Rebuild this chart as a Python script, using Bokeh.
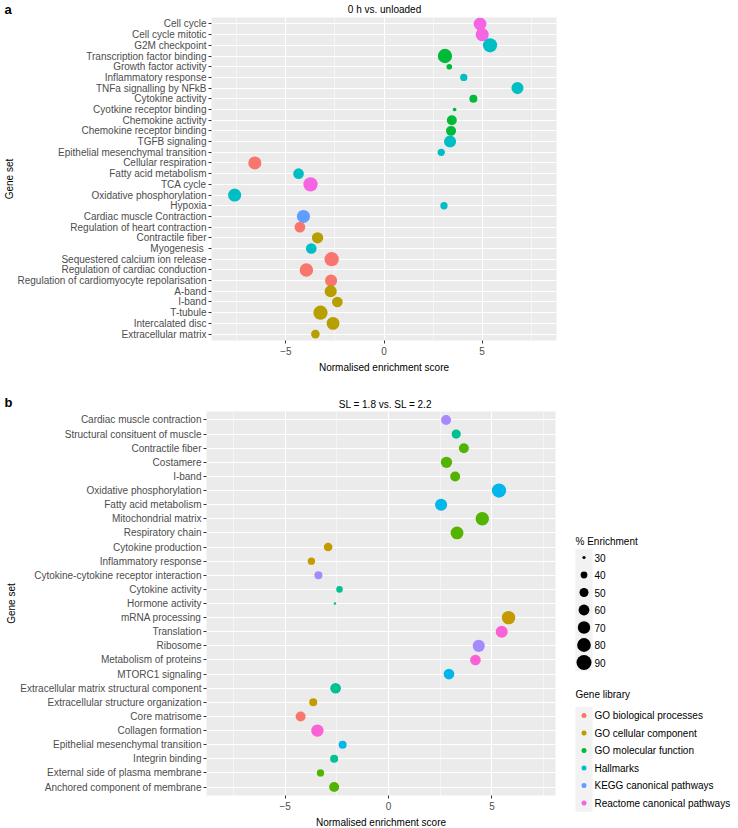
import math
from bokeh.plotting import figure
from bokeh.models import FixedTicker, Range1d, ColumnDataSource
from bokeh.layouts import column, row
from bokeh.transform import factor_cmap
from bokeh.core.properties import value
from bokeh.embed import file_html
from bokeh.resources import INLINE

FONT = "Liberation Sans"

# ---------------- data: panel a ----------------
title_a = "0 h vs. unloaded"
sets_a = ["Cell cycle", "Cell cycle mitotic", "G2M checkpoint", "Transcription factor binding",
          "Growth factor activity", "Inflammatory response", "TNFa signalling by NFkB",
          "Cytokine activity", "Cyotkine receptor binding", "Chemokine activity",
          "Chemokine receptor binding", "TGFB signaling", "Epithelial mesenchymal transition",
          "Cellular respiration", "Fatty acid metabolism", "TCA cycle", "Oxidative phosphorylation",
          "Hypoxia", "Cardiac muscle Contraction", "Regulation of heart contraction",
          "Contractile fiber", "Myogenesis ", "Sequestered calcium ion release",
          "Regulation of cardiac conduction", "Regulation of cardiomyocyte repolarisation",
          "A-band", "I-band", "T-tubule", "Intercalated disc", "Extracellular matrix"]
nes_a = [4.90, 5.01, 5.41, 3.11, 3.33, 4.07, 6.81, 4.56, 3.60, 3.46, 3.42, 3.37, 2.92,
         -6.59, -4.36, -3.75, -7.62, 3.06, -4.11, -4.29, -3.39, -3.71, -2.67, -3.96,
         -2.70, -2.72, -2.38, -3.24, -2.60, -3.50]
pct_a = [73, 75, 83, 84, 36, 42, 68, 45, 31, 55, 55, 68, 42, 75, 59, 84, 75, 42, 75, 59,
         63, 59, 84, 78, 68, 68, 59, 84, 73, 48]
lib_a = ["Reactome canonical pathways", "Reactome canonical pathways", "Hallmarks",
         "GO molecular function", "GO molecular function", "Hallmarks", "Hallmarks",
         "GO molecular function", "GO molecular function", "GO molecular function",
         "GO molecular function", "Hallmarks", "Hallmarks", "GO biological processes",
         "Hallmarks", "Reactome canonical pathways", "Hallmarks", "Hallmarks",
         "KEGG canonical pathways", "GO biological processes", "GO cellular component",
         "Hallmarks", "GO biological processes", "GO biological processes",
         "GO biological processes", "GO cellular component", "GO cellular component",
         "GO cellular component", "GO cellular component", "GO cellular component"]

# ---------------- data: panel b ----------------
title_b = "SL = 1.8 vs. SL = 2.2"
sets_b = ["Cardiac muscle contraction", "Structural consituent of muscle", "Contractile fiber",
          "Costamere", "I-band", "Oxidative phosphorylation", "Fatty acid metabolism",
          "Mitochondrial matrix", "Respiratory chain", "Cytokine production",
          "Inflammatory response", "Cytokine-cytokine receptor interaction", "Cytokine activity",
          "Hormone activity", "mRNA processing", "Translation", "Ribosome",
          "Metabolism of proteins", "MTORC1 signaling", "Extracellular matrix structural component",
          "Extracellular structure organization", "Core matrisome", "Collagen formation",
          "Epithelial mesenchymal transition", "Integrin binding",
          "External side of plasma membrane", "Anchored component of membrane"]
nes_b = [2.78, 3.27, 3.64, 2.80, 3.22, 5.34, 2.54, 4.53, 3.31, -2.92, -3.73, -3.39, -2.37,
         -2.59, 5.80, 5.47, 4.36, 4.20, 2.92, -2.56, -3.64, -4.25, -3.44, -2.22, -2.63,
         -3.29, -2.63]
pct_b = [55, 51, 55, 63, 55, 84, 68, 78, 73, 48, 42, 45, 39, 29, 78, 68, 68, 59, 59, 59,
         45, 55, 70, 45, 45, 42, 55]
lib_b = ["KEGG canonical pathways", "GO molecular function", "GO cellular component",
         "GO cellular component", "GO cellular component", "Hallmarks", "Hallmarks",
         "GO cellular component", "GO cellular component", "GO biological processes",
         "GO biological processes", "KEGG canonical pathways", "GO molecular function",
         "GO molecular function", "GO biological processes", "Reactome canonical pathways",
         "KEGG canonical pathways", "Reactome canonical pathways", "Hallmarks",
         "GO molecular function", "GO biological processes", "Canonical pathways",
         "Reactome canonical pathways", "Hallmarks", "GO molecular function",
         "GO cellular component", "GO cellular component"]

libs_a = ["GO biological processes", "GO cellular component", "GO molecular function",
          "Hallmarks", "KEGG canonical pathways", "Reactome canonical pathways"]
pal_a = ["#F8766D", "#B79F00", "#00BA38", "#00BFC4", "#619CFF", "#F564E3"]
libs_b = ["Canonical pathways", "GO biological processes", "GO cellular component",
          "GO molecular function", "Hallmarks", "KEGG canonical pathways",
          "Reactome canonical pathways"]
pal_b = ["#F8766D", "#C49A00", "#53B400", "#00C094", "#00B6EB", "#A58AFF", "#FB61D7"]

size_breaks = [30, 40, 50, 60, 70, 80, 90]
x_ticks = [-5, 0, 5]
x_minor = [-7.5, -2.5, 2.5, 7.5]

# size scale (area proportional): diameter in px
D_LO, D_HI, V_LO, V_HI = 3.2, 15.0, 30.0, 90.0


def size_px(v):
    a = D_LO ** 2 + (D_HI ** 2 - D_LO ** 2) * (v - V_LO) / (V_HI - V_LO)
    return math.sqrt(max(a, 2.0))


TXT = "#4D4D4D"


def pixel_fig(w, h):
    f = figure(width=w, height=h, x_range=Range1d(0, w), y_range=Range1d(h, 0),
               output_backend="svg", toolbar_location=None, min_border=0,
               x_axis_type=None, y_axis_type=None, frame_align=False)
    f.outline_line_color = None
    f.background_fill_color = "white"
    f.border_fill_color = "white"
    return f


def header(w, h, letter, ly, title, tx, ty):
    f = pixel_fig(w, h)
    f.text(x=[4], y=[ly], text=[letter], text_font=value(FONT), text_font_size="13px",
           text_font_style="bold", text_baseline="top", text_color="black")
    f.text(x=[tx], y=[ty], text=[title], text_font=value(FONT), text_font_size="10px",
           text_align="center", text_baseline="middle", text_color="black")
    return f


def panel(sets, nes, pct, lib, libs, pal, x_end, fw, fh, right):
    n = len(sets)
    ypos = list(range(n - 1, -1, -1))
    src = ColumnDataSource(dict(x=nes, y=ypos, s=[size_px(v) for v in pct], lib=lib))
    p = figure(frame_width=fw, frame_height=fh, x_range=Range1d(-8.8, x_end),
               y_range=Range1d(-0.6, n - 0.4), output_backend="svg", toolbar_location=None,
               min_border_left=206, min_border_right=right, min_border_top=0,
               min_border_bottom=32)
    p.background_fill_color = "#EBEBEB"
    p.border_fill_color = "white"
    p.outline_line_color = None
    p.scatter("x", "y", size="s", source=src, line_color=None,
              fill_color=factor_cmap("lib", pal, libs), fill_alpha=1.0)

    p.xaxis.ticker = FixedTicker(ticks=x_ticks, minor_ticks=x_minor)
    p.xaxis.major_label_overrides = {t: (("\u2212" + str(-t)) if t < 0 else str(t)) for t in x_ticks}
    p.yaxis.ticker = FixedTicker(ticks=ypos)
    p.yaxis.major_label_overrides = {y: s for y, s in zip(ypos, sets)}
    for ax in (p.xaxis, p.yaxis):
        ax.axis_line_color = None
        ax.major_tick_line_color = "#333333"
        ax.major_tick_out = 3
        ax.major_tick_in = 0
        ax.minor_tick_line_color = None
        ax.major_label_text_font = FONT
        ax.major_label_text_font_size = "10px"
        ax.major_label_text_color = TXT
        ax.major_label_standoff = 2
        ax.axis_label_text_font = FONT
        ax.axis_label_text_font_size = "10px"
        ax.axis_label_text_font_style = "normal"
        ax.axis_label_text_color = "black"
    p.xaxis.axis_label = "Normalised enrichment score"
    p.xaxis.axis_label_standoff = 4
    p.yaxis.axis_label = "Gene set"
    p.yaxis.axis_label_standoff = 0

    p.xgrid.grid_line_color = "white"
    p.xgrid.grid_line_width = 1.1
    p.xgrid.minor_grid_line_color = "white"
    p.xgrid.minor_grid_line_width = 0.5
    p.ygrid.grid_line_color = "white"
    p.ygrid.grid_line_width = 1.1
    return p


hdr_a = header(570, 17, "a", 1, title_a, 384, 9)
pa = panel(sets_a, nes_a, pct_a, lib_a, libs_a, pal_a, 8.8, 345, 323, 13)
hdr_b = header(570, 36, "b", 19, title_b, 385, 29)
pb = panel(sets_b, nes_b, pct_b, lib_b, libs_b, pal_b, 8.07, 349, 384, 9)

# ---------------- legend panel ----------------
LW, LH = 168, 416
leg = pixel_fig(LW, LH)
TOP = 410
KX, KW, STEP, TX = 19.5, 17, 17.5, 30
y0 = 540 - TOP
ys_size = [y0 + 16 + STEP * i for i in range(len(size_breaks))]
leg.text(x=[KX - 8.5], y=[y0], text=["% Enrichment"], text_font=value(FONT),
         text_font_size="10px", text_baseline="middle", text_color="black")
leg.rect(x=[KX] * len(ys_size), y=ys_size, width=KW, height=STEP, fill_color="#F2F2F2",
         line_color=None)
leg.scatter(x=[KX] * len(ys_size), y=ys_size, size=[size_px(v) for v in size_breaks],
            fill_color="black", line_color=None)
leg.text(x=[TX] * len(ys_size), y=ys_size, text=[str(v) for v in size_breaks],
         text_font=value(FONT), text_font_size="10px", text_baseline="middle",
         text_color="black")

y1 = 693 - TOP
ys_lib = [y1 + 21 + STEP * i for i in range(len(libs_a))]
leg.text(x=[KX - 8.5], y=[y1], text=["Gene library"], text_font=value(FONT),
         text_font_size="10px", text_baseline="middle", text_color="black")
leg.rect(x=[KX] * len(ys_lib), y=ys_lib, width=KW, height=STEP, fill_color="#F2F2F2",
         line_color=None)
leg.scatter(x=[KX] * len(ys_lib), y=ys_lib, size=5, fill_color=pal_a, line_color=None)
leg.text(x=[TX] * len(ys_lib), y=ys_lib, text=libs_a, text_font=value(FONT),
         text_font_size="10px", text_baseline="middle", text_color="black")

layout = column(hdr_a, pa, hdr_b, row(pb, leg))
open("out.html", "w").write(file_html(layout, INLINE))
